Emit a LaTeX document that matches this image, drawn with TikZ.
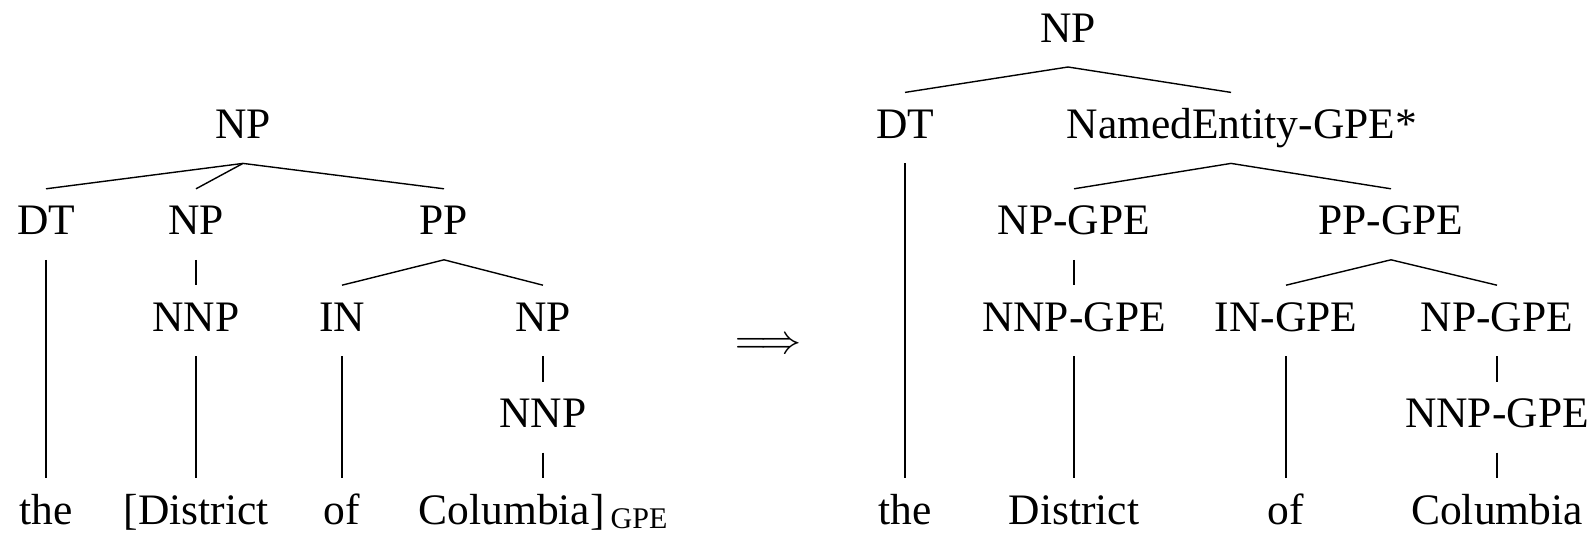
\documentclass[tikz,border=0pt]{standalone}
\usepackage{fontspec}
\setmainfont{Liberation Serif}
\begin{document}
\begin{tikzpicture}[x=1pt,y=-1pt,
  lbl/.style={anchor=base,inner sep=0pt,outer sep=0pt,
    font=\fontsize{43.5}{50}\selectfont},
  branch/.style={line width=1.4pt,line cap=butt}]
\useasboundingbox (0,0) rectangle (1590,533);
\def\Lzero{42}\def\Lone{138.4}\def\Ltwo{234.8}
\def\Lthree{331.2}\def\Lfour{427.6}\def\Lfive{524}
% edge from a parent label down to a child label
\newcommand\branchto[2]{\draw[branch] ([yshift=-25pt]#1.base) -- ([yshift=46pt]#2.base);}

% ---- left tree: flat bracketed named entity ----
\node[lbl] (lnp)   at (243,\Lone)   {NP};
\node[lbl] (ldt)   at (46,\Ltwo)    {DT};
\node[lbl] (lnpb)  at (196,\Ltwo)   {NP};
\node[lbl] (lpp)   at (444,\Ltwo)   {PP};
\node[lbl] (lnnp)  at (196,\Lthree) {NNP};
\node[lbl] (lin)   at (342,\Lthree) {IN};
\node[lbl] (lnpc)  at (543,\Lthree) {NP};
\node[lbl] (lnnpb) at (543,\Lfour)  {NNP};
\node[lbl] (lwa)   at (46,\Lfive)   {the};
\node[lbl] (lwb)   at (196,\Lfive)  {[District};
\node[lbl] (lwc)   at (342,\Lfive)  {of};
\node[lbl] (lwd)   at (543,\Lfive)  {Columbia]\hspace{6pt}\raisebox{-4pt}{\fontsize{30}{34}\selectfont GPE}};

\branchto{lnp}{ldt}
\branchto{lnp}{lnpb}
\branchto{lnp}{lpp}
\branchto{ldt}{lwa}
\branchto{lnpb}{lnnp}
\branchto{lnnp}{lwb}
\branchto{lpp}{lin}
\branchto{lpp}{lnpc}
\branchto{lin}{lwc}
\branchto{lnpc}{lnnpb}
\branchto{lnnpb}{lwd}

% ---- transformation arrow ----
\node[anchor=base,inner sep=0pt,scale=4.1] (arr) at (768,353) {$\Longrightarrow$};

% ---- right tree: named entity as a constituent ----
\node[lbl] (rnp)   at (1068,\Lzero)  {NP};
\node[lbl] (rdt)   at (905,\Lone)    {DT};
\node[lbl] (rne)   at (1231,\Lone)   {NamedEntity-GPE\rlap{*}};
\node[lbl] (rnpg)  at (1074,\Ltwo)   {NP-GPE};
\node[lbl] (rppg)  at (1391,\Ltwo)   {PP-GPE};
\node[lbl] (rnnpg) at (1074,\Lthree) {NNP-GPE};
\node[lbl] (ring)  at (1286,\Lthree) {IN-GPE};
\node[lbl] (rnpgb) at (1497,\Lthree) {NP-GPE};
\node[lbl] (rnnpgb) at (1497,\Lfour) {NNP-GPE};
\node[lbl] (rwa)   at (905,\Lfive)   {the};
\node[lbl] (rwb)   at (1074,\Lfive)  {District};
\node[lbl] (rwc)   at (1286,\Lfive)  {of};
\node[lbl] (rwd)   at (1497,\Lfive)  {Columbia};

\branchto{rnp}{rdt}
\branchto{rnp}{rne}
\branchto{rdt}{rwa}
\branchto{rne}{rnpg}
\branchto{rne}{rppg}
\branchto{rnpg}{rnnpg}
\branchto{rnnpg}{rwb}
\branchto{rppg}{ring}
\branchto{rppg}{rnpgb}
\branchto{ring}{rwc}
\branchto{rnpgb}{rnnpgb}
\branchto{rnnpgb}{rwd}
\end{tikzpicture}
\end{document}
